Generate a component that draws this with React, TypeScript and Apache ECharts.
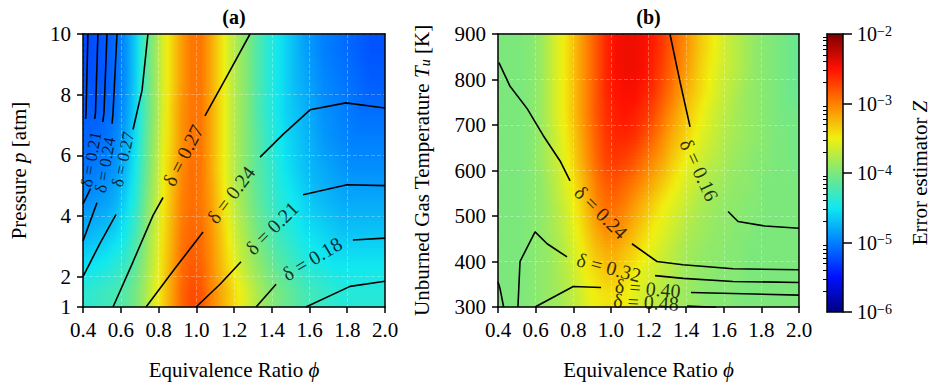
import { useEffect, useRef } from 'react';
import * as echarts from 'echarts';

const FONT = "'Liberation Serif', 'DejaVu Serif', 'Times New Roman', serif";

// ---------- cell centres of the sampled fields ----------
const PHI_CELLS = [0.425,0.475,0.525,0.575,0.625,0.675,0.725,0.775,0.825,0.875,0.925,0.975,1.025,1.075,1.125,1.175,1.225,1.275,1.325,1.375,1.425,1.475,1.525,1.575,1.625,1.675,1.725,1.775,1.825,1.875,1.925,1.975];
const P_CELLS = [1.5, 2.5, 3.5, 4.5, 5.5, 6.5, 7.5, 8.5, 9.5];
const T_CELLS = [325, 375, 425, 475, 525, 575, 625, 675, 725, 775, 825, 875];

// ---------- tick labels ----------
const P_TICKS = [1, 2, 4, 6, 8, 10];
const CB_DECADES = [-6, -5, -4, -3];
const CB_MANTISSAS = [2, 3, 4, 5, 6, 7, 8, 9];

// ---------- panel (a): log10 Z, rows by pressure ----------
const A_P95 = [-5.24,-5.20,-5.16,-5.08,-4.92,-4.64,-4.24,-3.92,-3.60,-3.36,-3.12,-2.96,-2.96,-3.16,-3.40,-3.64,-3.84,-4.00,-4.20,-4.36,-4.48,-4.60,-4.72,-4.84,-4.92,-5.00,-5.04,-5.08,-5.12,-5.16,-5.20,-5.20];
const A_P85 = [-5.20,-5.20,-5.16,-5.08,-4.92,-4.64,-4.24,-3.92,-3.60,-3.36,-3.12,-2.96,-2.96,-3.16,-3.40,-3.64,-3.84,-4.00,-4.20,-4.36,-4.48,-4.60,-4.72,-4.80,-4.88,-4.96,-5.00,-5.04,-5.08,-5.12,-5.16,-5.16];
const A_P75 = [-5.16,-5.16,-5.12,-5.04,-4.88,-4.60,-4.24,-3.92,-3.60,-3.32,-3.08,-2.96,-2.96,-3.16,-3.40,-3.64,-3.84,-4.00,-4.20,-4.36,-4.48,-4.60,-4.68,-4.76,-4.84,-4.92,-4.96,-5.00,-5.04,-5.08,-5.08,-5.08];
const A_P65 = [-5.12,-5.08,-5.04,-4.96,-4.80,-4.56,-4.20,-3.88,-3.56,-3.32,-3.08,-2.96,-2.96,-3.16,-3.40,-3.64,-3.84,-4.00,-4.16,-4.32,-4.44,-4.56,-4.64,-4.72,-4.80,-4.88,-4.92,-4.96,-5.00,-5.00,-5.00,-5.00];
const A_P55 = [-5.04,-5.00,-4.96,-4.88,-4.72,-4.48,-4.16,-3.84,-3.52,-3.28,-3.04,-2.92,-2.96,-3.16,-3.40,-3.64,-3.84,-4.00,-4.16,-4.28,-4.40,-4.52,-4.60,-4.68,-4.76,-4.80,-4.84,-4.88,-4.92,-4.92,-4.92,-4.92];
const A_P45 = [-4.92,-4.88,-4.84,-4.76,-4.60,-4.40,-4.08,-3.80,-3.48,-3.24,-3.00,-2.92,-2.96,-3.12,-3.36,-3.60,-3.80,-3.96,-4.12,-4.24,-4.36,-4.44,-4.52,-4.60,-4.68,-4.72,-4.76,-4.80,-4.80,-4.80,-4.80,-4.80];
const A_P35 = [-4.76,-4.72,-4.68,-4.60,-4.48,-4.28,-4.00,-3.72,-3.44,-3.20,-2.96,-2.88,-2.92,-3.08,-3.28,-3.52,-3.72,-3.88,-4.04,-4.16,-4.28,-4.36,-4.44,-4.52,-4.56,-4.60,-4.64,-4.68,-4.68,-4.68,-4.68,-4.68];
const A_P25 = [-4.56,-4.52,-4.48,-4.40,-4.32,-4.16,-3.92,-3.68,-3.40,-3.16,-2.92,-2.84,-2.88,-3.04,-3.24,-3.44,-3.64,-3.80,-3.92,-4.04,-4.16,-4.24,-4.32,-4.40,-4.44,-4.48,-4.52,-4.52,-4.52,-4.52,-4.52,-4.52];
const A_P15 = [-4.36,-4.32,-4.28,-4.24,-4.16,-4.04,-3.84,-3.60,-3.36,-3.12,-2.88,-2.76,-2.80,-3.00,-3.16,-3.32,-3.48,-3.64,-3.80,-3.92,-4.00,-4.08,-4.16,-4.24,-4.28,-4.32,-4.36,-4.40,-4.40,-4.40,-4.40,-4.40];

// ---------- panel (b): log10 Z, rows by temperature ----------
const B_T875 = [-4.00,-4.00,-4.00,-3.96,-3.88,-3.72,-3.56,-3.40,-3.20,-3.00,-2.80,-2.60,-2.48,-2.44,-2.44,-2.48,-2.56,-2.68,-2.84,-3.00,-3.16,-3.32,-3.44,-3.56,-3.68,-3.76,-3.84,-3.92,-3.96,-4.00,-4.04,-4.08];
const B_T825 = [-4.00,-4.00,-4.00,-3.96,-3.88,-3.72,-3.56,-3.40,-3.20,-3.00,-2.80,-2.60,-2.48,-2.44,-2.44,-2.48,-2.60,-2.72,-2.88,-3.04,-3.20,-3.36,-3.48,-3.60,-3.68,-3.76,-3.84,-3.92,-3.96,-4.00,-4.04,-4.08];
const B_T775 = [-4.00,-4.00,-4.00,-3.96,-3.88,-3.72,-3.56,-3.40,-3.20,-3.00,-2.80,-2.60,-2.52,-2.48,-2.48,-2.56,-2.64,-2.80,-2.96,-3.12,-3.28,-3.40,-3.52,-3.64,-3.72,-3.80,-3.88,-3.92,-3.96,-4.00,-4.04,-4.08];
const B_T725 = [-4.00,-4.00,-4.00,-3.96,-3.88,-3.72,-3.56,-3.40,-3.20,-3.00,-2.80,-2.64,-2.56,-2.52,-2.56,-2.64,-2.76,-2.92,-3.08,-3.24,-3.36,-3.48,-3.60,-3.68,-3.76,-3.84,-3.88,-3.92,-3.96,-4.00,-4.04,-4.04];
const B_T675 = [-4.00,-4.00,-4.00,-3.96,-3.88,-3.76,-3.60,-3.44,-3.24,-3.04,-2.84,-2.68,-2.60,-2.60,-2.64,-2.76,-2.88,-3.04,-3.20,-3.32,-3.44,-3.56,-3.64,-3.72,-3.80,-3.84,-3.88,-3.92,-3.96,-4.00,-4.00,-4.04];
const B_T625 = [-4.00,-4.00,-4.00,-3.96,-3.88,-3.76,-3.64,-3.48,-3.28,-3.08,-2.88,-2.72,-2.68,-2.72,-2.80,-2.92,-3.04,-3.16,-3.32,-3.44,-3.56,-3.64,-3.72,-3.76,-3.84,-3.88,-3.92,-3.96,-3.96,-4.00,-4.00,-4.04];
const B_T575 = [-4.00,-4.00,-4.00,-3.96,-3.92,-3.80,-3.68,-3.52,-3.36,-3.16,-2.96,-2.84,-2.80,-2.88,-2.96,-3.08,-3.20,-3.32,-3.44,-3.56,-3.64,-3.72,-3.80,-3.84,-3.88,-3.92,-3.92,-3.96,-4.00,-4.00,-4.00,-4.00];
const B_T525 = [-4.00,-4.00,-4.00,-3.96,-3.92,-3.84,-3.72,-3.60,-3.44,-3.24,-3.04,-2.92,-2.92,-3.00,-3.12,-3.24,-3.36,-3.48,-3.56,-3.64,-3.72,-3.80,-3.84,-3.88,-3.92,-3.92,-3.96,-3.96,-4.00,-4.00,-4.00,-4.00];
const B_T475 = [-4.00,-4.00,-4.00,-3.96,-3.92,-3.84,-3.76,-3.64,-3.48,-3.32,-3.16,-3.04,-3.04,-3.12,-3.24,-3.36,-3.48,-3.56,-3.64,-3.72,-3.80,-3.84,-3.88,-3.92,-3.92,-3.96,-3.96,-4.00,-4.00,-4.00,-4.00,-4.00];
const B_T425 = [-4.00,-4.00,-4.00,-3.96,-3.92,-3.88,-3.80,-3.68,-3.56,-3.40,-3.28,-3.20,-3.20,-3.28,-3.36,-3.48,-3.56,-3.64,-3.72,-3.80,-3.84,-3.88,-3.92,-3.92,-3.96,-3.96,-4.00,-4.00,-4.00,-4.00,-4.00,-4.00];
const B_T375 = [-4.00,-4.00,-4.00,-3.96,-3.92,-3.88,-3.80,-3.72,-3.60,-3.48,-3.40,-3.32,-3.32,-3.40,-3.48,-3.56,-3.64,-3.72,-3.76,-3.84,-3.88,-3.92,-3.92,-3.96,-3.96,-3.96,-4.00,-4.00,-4.00,-4.00,-4.00,-4.00];
const B_T325 = [-4.00,-4.00,-4.00,-3.96,-3.92,-3.88,-3.84,-3.76,-3.68,-3.56,-3.48,-3.44,-3.44,-3.48,-3.56,-3.64,-3.68,-3.76,-3.80,-3.84,-3.88,-3.92,-3.96,-3.96,-3.96,-4.00,-4.00,-4.00,-4.00,-4.00,-4.00,-4.00];

const A_ROWS = [A_P15, A_P25, A_P35, A_P45, A_P55, A_P65, A_P75, A_P85, A_P95];
const B_ROWS = [B_T325, B_T375, B_T425, B_T475, B_T525, B_T575, B_T625, B_T675, B_T725, B_T775, B_T825, B_T875];

// ---------- contour lines of delta, panel (a): [phi, p] ----------
const A_D015 = [[[1.581, 1.0], [1.815, 1.68], [2.0, 1.85]]];
const A_D018 = [[[1.317, 1.0], [1.423, 1.75]], [[1.83, 3.21], [2.0, 3.27]]];
const A_D021 = [[[0.999, 1.0], [1.126, 1.75], [1.237, 2.49]], [[1.566, 4.7], [1.799, 5.03], [2.0, 5.0]]];
const A_D024 = [[[0.734, 1.0], [0.887, 2.27], [1.036, 3.47]], [[1.338, 5.94], [1.46, 6.69], [1.603, 7.5], [1.793, 7.73], [2.0, 7.56]]];
const A_D027 = [[[0.559, 1.0], [0.665, 2.49], [0.771, 4.02], [0.824, 4.61]], [[1.046, 7.3], [1.168, 8.67], [1.285, 10]]];
const A_D027_LEAN = [[[0.744, 10], [0.713, 8.15], [0.665, 6.85]], [[0.575, 4.05], [0.49, 3.1], [0.4, 2.0]]];
const A_D024_LEAN = [[[0.58, 10], [0.559, 7.4], [0.554, 7.04]], [[0.474, 4.44], [0.4, 3.18]]];
const A_D021_LEAN = [[[0.527, 10], [0.511, 7.4], [0.505, 7.1]], [[0.44, 4.9], [0.4, 4.4]]];
const A_D018_LEAN = [[[0.479, 10], [0.466, 7.4], [0.462, 7.2]]];
const A_D015_LEAN = [[[0.426, 10], [0.416, 7.4], [0.414, 7.2]]];

const A_LABELS = [
  { x: 0.93, y: 6.0, text: 'δ = 0.27', rot: 63, size: 20 },
  { x: 1.184, y: 4.7, text: 'δ = 0.24', rot: 53, size: 20 },
  { x: 1.401, y: 3.6, text: 'δ = 0.21', rot: 45, size: 20 },
  { x: 1.613, y: 2.59, text: 'δ = 0.18', rot: 31, size: 20 },
  { x: 0.612, y: 5.87, text: 'δ = 0.27', rot: 78, size: 17 },
  { x: 0.517, y: 5.68, text: 'δ = 0.24', rot: 80, size: 17 },
  { x: 0.443, y: 5.87, text: 'δ = 0.21', rot: 80, size: 17 },
];

// ---------- contour lines of delta, panel (b): [phi, Tu] ----------
const B_D016 = [[[1.314, 900], [1.368, 794], [1.421, 696]], [[1.623, 510], [1.676, 488], [1.82, 478], [2.0, 473]]];
const B_D024 = [[[0.405, 837], [0.464, 785], [0.555, 736], [0.64, 677], [0.73, 621], [0.783, 577]], [[1.112, 439], [1.245, 400], [1.383, 393], [1.649, 384], [2.0, 382]]];
const B_D032 = [[[0.506, 300], [0.517, 400], [0.597, 465], [0.661, 439], [0.767, 410]], [[1.235, 369], [1.384, 363], [1.649, 356], [2.0, 354]]];
const B_D040 = [[[0.597, 300], [0.8, 345], [0.948, 343]], [[1.426, 332], [2.0, 326]]];
const B_D048 = [[[1.405, 302], [1.56, 299.5]]];
const B_D040_LEAN = [[[0.4, 355], [0.41, 342], [0.43, 300]]];

const B_LABELS = [
  { x: 0.948, y: 508, text: 'δ = 0.24', rot: -45, size: 20 },
  { x: 1.47, y: 601, text: 'δ = 0.16', rot: -65, size: 20 },
  { x: 0.99, y: 387, text: 'δ = 0.32', rot: -15, size: 20 },
  { x: 1.197, y: 341, text: 'δ = 0.40', rot: -5, size: 20 },
  { x: 1.187, y: 311, text: 'δ = 0.48', rot: -3, size: 20 },
];

const JET = ['#00007f', '#0010ff', '#0080ff', '#10e8f0', '#7ce87c', '#f0f010', '#ff8000', '#ff1000', '#7f0000'];
const Z_MIN = -6;
const Z_MAX = -2;

// ---------- layout ----------
const GA = { left: 83, top: 34, width: 302, height: 277 };
const GB = { left: 498, top: 34, width: 301, height: 277 };
const GC = { left: 827, top: 34, width: 16, height: 278 };

const hexRgb = (h: string) => [parseInt(h.slice(1, 3), 16), parseInt(h.slice(3, 5), 16), parseInt(h.slice(5, 7), 16)];
const JET_RGB = JET.map(hexRgb);
const jet = (v: number) => {
  const t = Math.min(1, Math.max(0, (v - Z_MIN) / (Z_MAX - Z_MIN))) * (JET.length - 1);
  const i = Math.min(JET.length - 2, Math.floor(t));
  const f = t - i;
  const a = JET_RGB[i], b = JET_RGB[i + 1];
  return `rgb(${Math.round(a[0] + (b[0] - a[0]) * f)},${Math.round(a[1] + (b[1] - a[1]) * f)},${Math.round(a[2] + (b[2] - a[2]) * f)})`;
};

// smooth (Gouraud-like) rendering of a sampled field through the axes' scales
const surfaceSeries = (rows: number[][], xc: number[], yc: number[], xr: number[], yr: number[], axisIndex: number) => {
  const xs = [xr[0], ...xc, xr[1]];
  const ys = [yr[0], ...yc, yr[1]];
  const nr = rows.length, nc = rows[0].length;
  const V = (i: number, j: number) => rows[Math.min(Math.max(j - 1, 0), nr - 1)][Math.min(Math.max(i - 1, 0), nc - 1)];
  return {
    type: 'custom', coordinateSystem: 'cartesian2d', xAxisIndex: axisIndex, yAxisIndex: axisIndex, silent: true, z: 1,
    data: ys.slice(0, -1).map((y, j) => [xs[0], y, j]),
    renderItem: (_p: any, api: any) => {
      const j = api.value(2);
      const pb = api.coord([xs[0], ys[j]]);
      const pt = api.coord([xs[xs.length - 1], ys[j + 1]]);
      const xl = pb[0], W = pt[0] - pb[0];
      const yb = pb[1], H = pb[1] - pt[1];
      const K = Math.max(1, Math.round(H / 3.5));
      const off = xs.map((x) => (api.coord([x, ys[j]])[0] - xl) / W);
      const children: any[] = [];
      for (let k = 0; k < K; k++) {
        const s = (k + 0.5) / K;
        const vals = xs.map((_x, i) => V(i, j) + (V(i, j + 1) - V(i, j)) * s);
        const stops: any[] = [];
        vals.forEach((v, i) => {
          stops.push({ offset: off[i], color: jet(v) });
          if (i < vals.length - 1) stops.push({ offset: (off[i] + off[i + 1]) / 2, color: jet((v + vals[i + 1]) / 2) });
        });
        const y0 = yb - ((k + 1) * H) / K;
        children.push({
          type: 'rect',
          shape: { x: xl, y: y0 - 0.4, width: W, height: H / K + 0.8 },
          style: { fill: new echarts.graphic.LinearGradient(0, 0, 1, 0, stops) },
        });
      }
      return { type: 'group', children };
    },
  };
};

const lineStyle = { color: '#000', width: 1.5 };
const txt = { fontFamily: FONT, color: '#000' };

const lineSeries = (segs: number[][][], ai: number) =>
  segs.map((seg) => ({
    type: 'line', xAxisIndex: ai, yAxisIndex: ai, data: seg, symbol: 'none', showSymbol: false,
    lineStyle: { color: '#000', width: 1.6 }, z: 4, silent: true,
  }));

const labelSeries = (labels: { x: number; y: number; text: string; rot: number; size: number }[], ai: number) => ({
  type: 'scatter', xAxisIndex: ai, yAxisIndex: ai, symbolSize: 1, silent: true, z: 5,
  itemStyle: { color: 'transparent' },
  data: labels.map((l) => ({
    value: [l.x, l.y],
    label: { show: true, position: 'inside', formatter: l.text, rotate: l.rot, fontSize: l.size, fontFamily: FONT, color: '#000' },
  })),
});

const gridLine = { show: true, lineStyle: { color: 'rgba(255,255,255,0.28)', type: 'dashed', width: 1 } };

const phiAxis = (grid: number) => ({
  type: 'value', gridIndex: grid, min: 0.4, max: 2.0, interval: 0.2, position: 'bottom', z: 3,
  name: '{r|Equivalence Ratio }{i|ϕ}', nameLocation: 'middle', nameGap: 52,
  nameTextStyle: { ...txt, fontSize: 21, rich: { r: { ...txt, fontSize: 21 }, i: { ...txt, fontSize: 21, fontStyle: 'italic' } } },
  axisLine: { show: true, onZero: false, lineStyle },
  axisTick: { show: true, length: 6, lineStyle },
  axisLabel: { ...txt, fontSize: 21, margin: 12, formatter: (v: number) => v.toFixed(1) },
  splitLine: gridLine,
});

const border = (grid: number, pos: string, min: number, max: number) => ({
  type: 'value', gridIndex: grid, min, max, position: pos, z: 10,
  axisLine: { show: true, onZero: false, lineStyle }, axisTick: { show: false }, axisLabel: { show: false }, splitLine: { show: false },
});

const cbMinor = CB_DECADES.flatMap((d) => CB_MANTISSAS.map((m) => d + Math.log10(m)));

const option = {
  animation: false,
  textStyle: { fontFamily: FONT },
  grid: [GA, GB, GC],
  graphic: [
    { type: 'text', x: GA.left + GA.width / 2, y: 17, style: { text: '(a)', fontFamily: FONT, fontSize: 20, fontWeight: 'bold', fill: '#000', align: 'center', verticalAlign: 'middle' } },
    { type: 'text', x: GB.left + GB.width / 2, y: 17, style: { text: '(b)', fontFamily: FONT, fontSize: 20, fontWeight: 'bold', fill: '#000', align: 'center', verticalAlign: 'middle' } },
  ],
  visualMap: {
    type: 'continuous', min: Z_MIN, max: Z_MAX, seriesIndex: [0, 1], dimension: 2, orient: 'vertical',
    left: GC.left, top: GC.top, itemWidth: GC.width, itemHeight: GC.height, padding: 0,
    calculable: false, realtime: false, hoverLink: false, showLabel: false,
    inRange: { color: JET }, outOfRange: { color: JET },
  },
  xAxis: [
    phiAxis(0),
    phiAxis(1),
    border(2, 'bottom', 0, 1),
    border(0, 'top', 0.4, 2.0),
    border(1, 'top', 0.4, 2.0),
    border(2, 'top', 0, 1),
  ],
  yAxis: [
    {
      type: 'value', gridIndex: 0, min: 1, max: 10, position: 'left', z: 3,
      name: '{r|Pressure }{i|p}{r| [atm]}', nameLocation: 'middle', nameGap: 54,
      nameTextStyle: { ...txt, fontSize: 21, rich: { r: { ...txt, fontSize: 21 }, i: { ...txt, fontSize: 21, fontStyle: 'italic' } } },
      axisLine: { show: true, onZero: false, lineStyle },
      axisTick: { show: true, length: 6, lineStyle, customValues: P_TICKS },
      axisLabel: { ...txt, fontSize: 21, margin: 12, customValues: P_TICKS },
      splitLine: gridLine,
    },
    {
      type: 'value', gridIndex: 1, min: 300, max: 900, interval: 100, position: 'left', z: 3,
      name: '{r|Unburned Gas Temperature }{i|T}{s|u}{r| [K]}', nameLocation: 'middle', nameGap: 66,
      nameTextStyle: { ...txt, fontSize: 21, rich: { r: { ...txt, fontSize: 21 }, i: { ...txt, fontSize: 21, fontStyle: 'italic' }, s: { ...txt, fontSize: 14, fontStyle: 'italic', verticalAlign: 'bottom' } } },
      axisLine: { show: true, onZero: false, lineStyle },
      axisTick: { show: true, length: 6, lineStyle },
      axisLabel: { ...txt, fontSize: 21, margin: 12 },
      splitLine: gridLine,
    },
    {
      type: 'value', gridIndex: 2, min: Z_MIN, max: Z_MAX, interval: 1, position: 'right', z: 10,
      name: '{r|Error estimator }{i|Z}', nameLocation: 'middle', nameGap: 66, nameRotate: 90,
      nameTextStyle: { ...txt, fontSize: 21, rich: { r: { ...txt, fontSize: 21 }, i: { ...txt, fontSize: 21, fontStyle: 'italic' } } },
      axisLine: { show: true, onZero: false, lineStyle },
      axisTick: { show: true, length: 9, lineStyle },
      axisLabel: {
        ...txt, margin: 14, formatter: (v: number) => `{b|10}{s|−${Math.abs(v)}}`,
        rich: { b: { ...txt, fontSize: 20 }, s: { ...txt, fontSize: 14, verticalAlign: 'top' } },
      },
      splitLine: { show: false },
    },
    border(0, 'right', 1, 10),
    border(1, 'right', 300, 900),
    border(2, 'left', Z_MIN, Z_MAX),
    {
      type: 'value', gridIndex: 2, min: Z_MIN, max: Z_MAX, position: 'right', z: 10,
      axisLine: { show: false }, axisLabel: { show: false }, splitLine: { show: false },
      axisTick: { show: true, inside: true, length: 4, lineStyle: { color: '#000', width: 1 }, customValues: cbMinor },
    },
  ],
  series: [
    surfaceSeries(A_ROWS, PHI_CELLS, P_CELLS, [0.4, 2.0], [1, 10], 0),
    surfaceSeries(B_ROWS, PHI_CELLS, T_CELLS, [0.4, 2.0], [300, 900], 1),
    ...[A_D015, A_D018, A_D021, A_D024, A_D027, A_D027_LEAN, A_D024_LEAN, A_D021_LEAN, A_D018_LEAN, A_D015_LEAN].flatMap((c) => lineSeries(c, 0)),
    ...[B_D016, B_D024, B_D032, B_D040, B_D048, B_D040_LEAN].flatMap((c) => lineSeries(c, 1)),
    labelSeries(A_LABELS, 0),
    labelSeries(B_LABELS, 1),
  ],
};

export default function App() {
  const ref = useRef<HTMLDivElement>(null);
  useEffect(() => {
    document.body.style.margin = '0';
    const chart = echarts.init(ref.current!, null, { renderer: 'svg' });
    chart.setOption(option as any);
    return () => chart.dispose();
  }, []);
  return <div ref={ref} style={{ width: 933, height: 385 }} />;
}
